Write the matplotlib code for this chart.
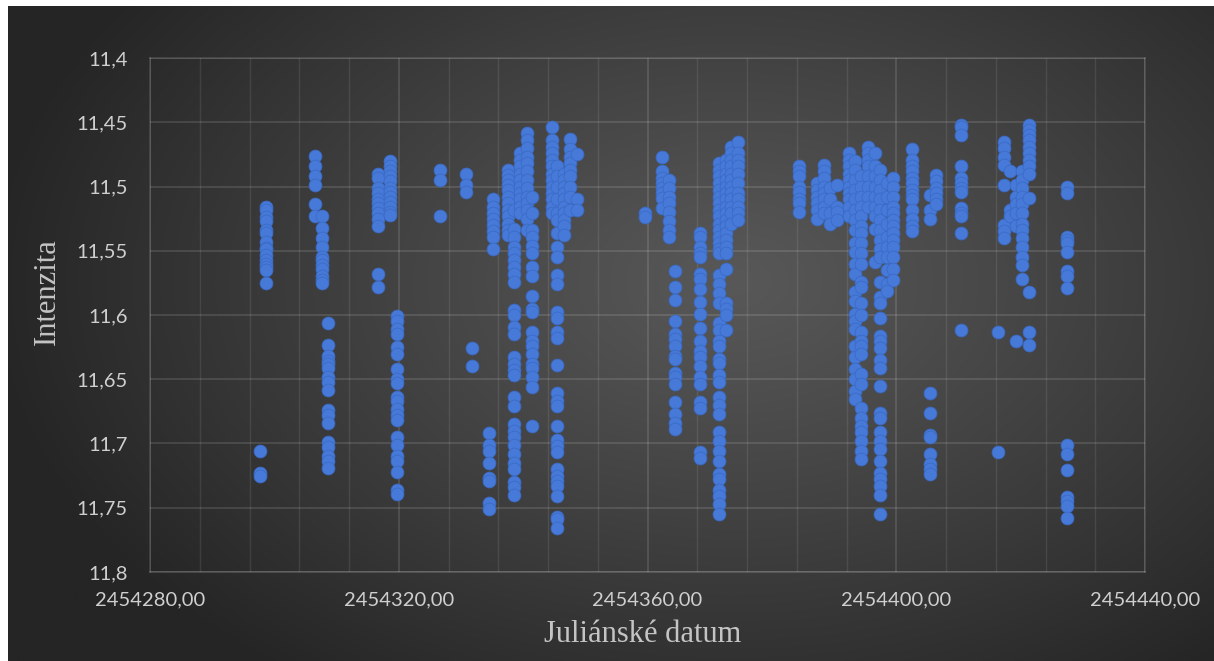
import numpy as np
import matplotlib
matplotlib.use("Agg")
import matplotlib.pyplot as plt
from matplotlib.ticker import MultipleLocator, FuncFormatter

# ---------------- data (Julian date of each night, magnitudes measured that night) ----------------
night_jd = [2454297.7, 2454298.65, 2454306.6, 2454307.6, 2454308.6, 2454316.6, 2454318.6, 2454319.7,
            2454326.7, 2454330.8, 2454331.7, 2454334.5, 2454335.2, 2454337.6, 2454338.6, 2454339.5,
            2454340.6, 2454341.5, 2454344.6, 2454345.5, 2454346.5, 2454347.6, 2454348.6, 2454359.6,
            2454362.4, 2454363.5, 2454364.4, 2454368.5, 2454371.5, 2454372.6, 2454373.5, 2454374.6,
            2454384.4, 2454387.2, 2454388.4, 2454389.3, 2454390.4, 2454392.45, 2454393.4, 2454394.4,
            2454395.5, 2454396.6, 2454397.4, 2454398.45, 2454399.5, 2454402.5, 2454405.4, 2454406.4,
            2454410.4, 2454416.3, 2454417.3, 2454418.3, 2454419.3, 2454420.3, 2454421.3, 2454427.4]

night_mag = [
    [11.706, 11.723, 11.725],
    [11.516, 11.518, 11.524, 11.527, 11.534, 11.536, 11.543, 11.548, 11.549, 11.553, 11.557, 11.560, 11.563, 11.565, 11.575],
    [11.476, 11.484, 11.492, 11.499, 11.514, 11.523],
    [11.523, 11.532, 11.540, 11.547, 11.555, 11.557, 11.561, 11.564, 11.570, 11.573, 11.575],
    [11.606, 11.623, 11.632, 11.636, 11.638, 11.641, 11.648, 11.652, 11.658, 11.674, 11.678, 11.684, 11.699, 11.703, 11.710, 11.714, 11.719],
    [11.490, 11.493, 11.501, 11.505, 11.510, 11.513, 11.517, 11.521, 11.525, 11.531, 11.568, 11.578],
    [11.480, 11.484, 11.488, 11.492, 11.496, 11.501, 11.504, 11.508, 11.512, 11.516, 11.520, 11.522],
    [11.601, 11.605, 11.611, 11.615, 11.625, 11.630, 11.642, 11.650, 11.653, 11.664, 11.667, 11.673, 11.678, 11.682, 11.695, 11.701, 11.710, 11.714, 11.722, 11.736, 11.739],
    [11.487, 11.495, 11.523],
    [11.490, 11.499, 11.504],
    [11.626, 11.640],
    [11.692, 11.701, 11.706, 11.715, 11.727, 11.729, 11.746, 11.751],
    [11.510, 11.516, 11.521, 11.525, 11.530, 11.535, 11.539, 11.549],
    [11.487, 11.491, 11.495, 11.499, 11.503, 11.508, 11.513, 11.518, 11.523, 11.529, 11.534, 11.538],
    [11.518, 11.533, 11.539, 11.547, 11.552, 11.557, 11.563, 11.568, 11.574, 11.596, 11.600, 11.609, 11.615, 11.633, 11.638, 11.643, 11.647, 11.664, 11.671, 11.685, 11.690, 11.695, 11.701, 11.708, 11.715, 11.720, 11.730, 11.734, 11.740],
    [11.474, 11.479, 11.484, 11.490, 11.495, 11.500, 11.505, 11.510, 11.516, 11.521],
    [11.458, 11.464, 11.470, 11.477, 11.482, 11.488, 11.495, 11.501, 11.508, 11.513, 11.518, 11.525, 11.534],
    [11.508, 11.521, 11.534, 11.539, 11.546, 11.552, 11.563, 11.570, 11.585, 11.595, 11.598, 11.613, 11.620, 11.624, 11.630, 11.638, 11.641, 11.648, 11.656, 11.686],
    [11.454, 11.464, 11.469, 11.474, 11.479, 11.484, 11.490, 11.495, 11.500, 11.505, 11.510, 11.516, 11.521],
    [11.484, 11.492, 11.500, 11.510, 11.521, 11.526, 11.536, 11.547, 11.555, 11.569, 11.576, 11.598, 11.602, 11.613, 11.618, 11.639, 11.661, 11.667, 11.671, 11.686, 11.697, 11.702, 11.707, 11.720, 11.725, 11.729, 11.733, 11.741, 11.757, 11.759, 11.766],
    [11.490, 11.495, 11.500, 11.505, 11.510, 11.516, 11.521, 11.526, 11.531, 11.538],
    [11.463, 11.471, 11.477, 11.482, 11.487, 11.492, 11.500, 11.508, 11.518],
    [11.475, 11.510, 11.518],
    [11.521, 11.524],
    [11.477, 11.488, 11.493, 11.497, 11.501, 11.505, 11.509, 11.517],
    [11.495, 11.501, 11.508, 11.513, 11.520, 11.527, 11.534, 11.539],
    [11.566, 11.578, 11.588, 11.605, 11.615, 11.619, 11.624, 11.632, 11.634, 11.645, 11.648, 11.654, 11.668, 11.677, 11.684, 11.689],
    [11.536, 11.539, 11.547, 11.552, 11.555, 11.568, 11.572, 11.580, 11.590, 11.599, 11.610, 11.620, 11.628, 11.633, 11.640, 11.648, 11.654, 11.668, 11.672, 11.707, 11.711],
    [11.482, 11.487, 11.492, 11.497, 11.503, 11.508, 11.513, 11.518, 11.523, 11.529, 11.534, 11.539, 11.544, 11.549, 11.552,
     11.569, 11.576, 11.583, 11.591, 11.606, 11.612, 11.620, 11.624, 11.634, 11.637, 11.647, 11.652, 11.664, 11.670, 11.677, 11.691, 11.698, 11.706, 11.714, 11.724, 11.728, 11.736, 11.741, 11.747, 11.755],
    [11.479, 11.484, 11.490, 11.495, 11.500, 11.505, 11.510, 11.516, 11.521, 11.526, 11.531, 11.536, 11.542, 11.547, 11.552, 11.564, 11.591, 11.595, 11.600, 11.612],
    [11.469, 11.474, 11.479, 11.484, 11.490, 11.495, 11.500, 11.505, 11.510, 11.516, 11.521, 11.529],
    [11.465, 11.474, 11.479, 11.484, 11.490, 11.497, 11.505, 11.510, 11.516, 11.521, 11.526],
    [11.484, 11.488, 11.492, 11.500, 11.504, 11.510, 11.513, 11.520],
    [11.497, 11.503, 11.508, 11.513, 11.518, 11.525],
    [11.483, 11.488, 11.493, 11.500, 11.505, 11.510, 11.516, 11.521],
    [11.501, 11.510, 11.521, 11.529],
    [11.499, 11.516, 11.520, 11.526],
    [11.474, 11.479, 11.484, 11.490, 11.495, 11.500, 11.505, 11.510, 11.516, 11.523],
    [11.480, 11.487, 11.495, 11.503, 11.510, 11.518, 11.526, 11.534, 11.544, 11.551, 11.560, 11.568, 11.582, 11.589, 11.599, 11.605, 11.611, 11.624, 11.633, 11.642, 11.650, 11.659, 11.665],
    [11.492, 11.500, 11.508, 11.516, 11.523, 11.531, 11.536, 11.544, 11.552, 11.560, 11.574, 11.578, 11.591, 11.600, 11.613, 11.620, 11.624, 11.630, 11.646, 11.654, 11.672, 11.680, 11.686, 11.691, 11.698, 11.706, 11.712],
    [11.469, 11.474, 11.479, 11.484, 11.492, 11.500, 11.508, 11.516],
    [11.474, 11.484, 11.492, 11.500, 11.508, 11.516, 11.523, 11.533, 11.559],
    [11.487, 11.495, 11.503, 11.510, 11.518, 11.526, 11.534, 11.542, 11.549, 11.555, 11.574, 11.586, 11.591, 11.602, 11.616, 11.620, 11.626, 11.635, 11.641, 11.655, 11.676, 11.680, 11.691, 11.698, 11.704, 11.714, 11.723, 11.728, 11.733, 11.740, 11.755],
    [11.497, 11.508, 11.518, 11.529, 11.539, 11.547, 11.555, 11.565, 11.576, 11.581],
    [11.493, 11.500, 11.508, 11.516, 11.521, 11.526, 11.531, 11.536, 11.542, 11.547, 11.555, 11.564, 11.573],
    [11.471, 11.479, 11.484, 11.488, 11.493, 11.497, 11.503, 11.507, 11.510, 11.518, 11.525, 11.531, 11.535],
    [11.507, 11.518, 11.525, 11.661, 11.676, 11.693, 11.695, 11.708, 11.716, 11.720, 11.724],
    [11.491, 11.496, 11.501, 11.505, 11.510, 11.514],
    [11.452, 11.454, 11.460, 11.484, 11.493, 11.497, 11.501, 11.504, 11.517, 11.521, 11.523, 11.536, 11.612],
    [11.613, 11.707],
    [11.465, 11.470, 11.477, 11.483, 11.499, 11.530, 11.535, 11.540],
    [11.488, 11.518, 11.523],
    [11.499, 11.508, 11.514, 11.521, 11.531, 11.620],
    [11.488, 11.495, 11.501, 11.508, 11.514, 11.521, 11.529, 11.534, 11.540, 11.547, 11.555, 11.561, 11.572],
    [11.452, 11.456, 11.460, 11.464, 11.469, 11.474, 11.479, 11.484, 11.490, 11.509, 11.582, 11.613, 11.623],
    [11.500, 11.505, 11.539, 11.542, 11.544, 11.551, 11.566, 11.570, 11.579, 11.701, 11.708, 11.721, 11.742, 11.745, 11.749, 11.758],
]

x_title = "Juliánské datum"
y_title = "Intenzita"

# ---------------- build flat series ----------------
jd = np.concatenate([[d] * len(m) for d, m in zip(night_jd, night_mag)])
mag = np.concatenate(night_mag)

W, H = 1214, 661
fig = plt.figure(figsize=(W / 100, H / 100), dpi=100)
fig.patch.set_facecolor("white")

# dark radial-gradient background (white strip at left and top as in reference)
bl, bt = 8 / W, 6 / H
bg = fig.add_axes([bl, 0, 1 - bl, 1 - bt])
bg.set_axis_off()
ny, nx = 330, 600
yy, xx = np.mgrid[0:ny, 0:nx]
cx, cy = 0.60 * nx, 0.42 * ny
r = np.sqrt(((xx - cx) / (0.62 * nx)) ** 2 + ((yy - cy) / (0.75 * ny)) ** 2)
r = np.clip(r, 0, 1)
c_in, c_out = 0x58 / 255, 0x25 / 255
val = c_in + (c_out - c_in) * r ** 1.1
img = np.dstack([val, val, val])
bg.imshow(img, aspect="auto", extent=[0, 1, 0, 1], interpolation="bilinear")
bg.set_xlim(0, 1)
bg.set_ylim(0, 1)

# plot area: x 150..1145, y 58..572 (pixels)
ax = fig.add_axes([150 / W, 1 - 572 / H, (1145 - 150) / W, (572 - 58) / H])
ax.patch.set_alpha(0)

ax.scatter(jd, mag, s=85, color="#4679D8", edgecolors="#3B6BC6", linewidths=0.6, zorder=3)

ax.set_xlim(2454280, 2454440)
ax.set_ylim(11.8, 11.4)

ax.xaxis.set_major_locator(MultipleLocator(40))
ax.xaxis.set_minor_locator(MultipleLocator(8))
ax.yaxis.set_major_locator(MultipleLocator(0.05))

ax.xaxis.set_major_formatter(FuncFormatter(lambda v, p: f"{v:.2f}".replace(".", ",")))
def yfmt(v, p):
    s = f"{v:.2f}".rstrip("0")
    return s.replace(".", ",")
ax.yaxis.set_major_formatter(FuncFormatter(yfmt))

ax.grid(True, which="major", axis="both", color="white", alpha=0.15, linewidth=1.1, zorder=0)
ax.grid(True, which="minor", axis="x", color="white", alpha=0.09, linewidth=1.0, zorder=0)
for s in ax.spines.values():
    s.set_color((1, 1, 1, 0.15))
    s.set_linewidth(1.1)
ax.spines["bottom"].set_color((1, 1, 1, 0.2))

ax.tick_params(axis="both", which="both", length=0, colors="#cfcfcf", labelsize=14.5)
ax.tick_params(axis="y", pad=16)
ax.tick_params(axis="x", pad=14)
for lab in ax.get_xticklabels() + ax.get_yticklabels():
    lab.set_family(["Lato", "DejaVu Sans"])
    lab.set_color("#cfcfcf")

fig.text(643 / W, 1 - 634 / H, x_title, ha="center", va="center",
         fontsize=22, color="#c4c4c4", family=["Liberation Serif", "DejaVu Serif"])
fig.text(47 / W, 1 - 292 / H, y_title, ha="center", va="center", rotation=90,
         fontsize=22, color="#c4c4c4", family=["Liberation Serif", "DejaVu Serif"])

fig.savefig("out.png", dpi=100, facecolor=fig.get_facecolor())
